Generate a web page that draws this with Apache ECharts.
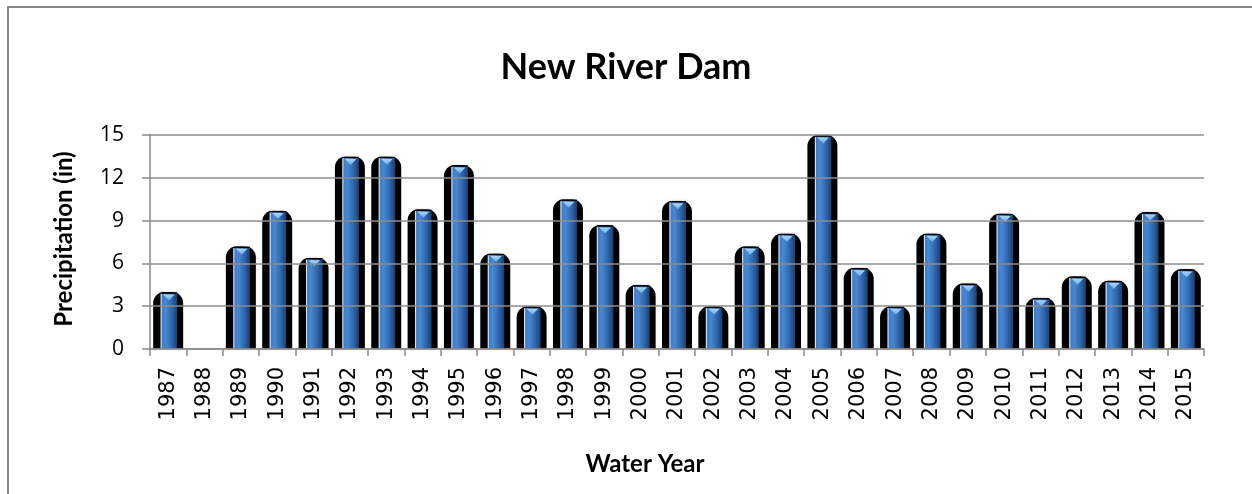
<!DOCTYPE html>
<html>
<head>
<meta charset="utf-8">
<script src="https://cdn.jsdelivr.net/npm/echarts@6/dist/echarts.min.js"></script>
<style>
html,body{margin:0;padding:0;background:#fff;}
#c{width:1252px;height:494px;}
</style>
</head>
<body>
<div id="c"></div>
<script>
const years = ['1987','1988','1989','1990','1991','1992','1993','1994','1995','1996','1997','1998','1999','2000','2001','2002','2003','2004','2005','2006','2007','2008','2009','2010','2011','2012','2013','2014','2015'];
const precipitation = [4.0, 0, 7.2, 9.7, 6.4, 13.5, 13.5, 9.8, 12.9, 6.7, 3.0, 10.5, 8.7, 4.5, 10.4, 3.0, 7.2, 8.1, 15.0, 5.7, 3.0, 8.1, 4.6, 9.5, 3.6, 5.1, 4.8, 9.6, 5.6];
const yTicks = [0, 3, 6, 9, 12, 15];

const chart = echarts.init(document.getElementById('c'), null, {renderer: 'canvas'});

function renderItem(params, api) {
  const idx = api.value(0);
  const v = api.value(1);
  const top = api.coord([idx, v]);
  const base = api.coord([idx, 0]);
  const cw = api.size([1, 0])[0];
  const cx = top[0];
  const h = base[1] - top[1];
  if (h < 1) {
    return {type: 'group', children: []};
  }
  const bw = cw * 0.825;
  const bx = cx - bw / 2;
  const r = Math.min(11, h);
  const ix0 = cx - bw * 0.25;
  const ix1 = cx + bw * 0.3;
  const iw = ix1 - ix0;
  const children = [
    {type: 'rect', shape: {x: bx - 2, y: top[1] - 2, width: bw + 4, height: h + 2, r: [r + 2, r + 2, 0, 0]}, style: {fill: '#ffffff'}},
    {type: 'rect', shape: {x: bx, y: top[1], width: bw, height: h, r: [r, r, 0, 0]}, style: {fill: '#000000'}},
    {type: 'rect', shape: {x: ix0, y: top[1] + 1.5, width: iw, height: h - 1.5},
      style: {fill: new echarts.graphic.LinearGradient(0, 0, 1, 0, [
        {offset: 0, color: '#3b78c0'},
        {offset: 0.3, color: '#4888d2'},
        {offset: 0.65, color: '#2f68ae'},
        {offset: 1, color: '#1b3f70'}
      ])}},
    {type: 'line', shape: {x1: ix0 + 0.5, y1: top[1] + 2, x2: ix0 + 0.5, y2: base[1]}, style: {stroke: '#e8f0f8', lineWidth: 1}},
    {type: 'line', shape: {x1: ix0 - 3, y1: top[1] - 0.5, x2: ix1 + 3, y2: top[1] - 0.5}, style: {stroke: '#f2f2f2', lineWidth: 1}},
    {type: 'line', shape: {x1: ix0, y1: top[1] + 1, x2: ix1, y2: top[1] + 1}, style: {stroke: '#000000', lineWidth: 1.2}},
    {type: 'polygon', shape: {points: [[ix0 + 2.5, top[1] + 2.5], [ix1 - 2.5, top[1] + 2.5], [(ix0 + ix1) / 2, top[1] + 8.5]]},
      style: {fill: new echarts.graphic.LinearGradient(0, 0, 0, 1, [
        {offset: 0, color: '#a8d6fa'},
        {offset: 1, color: '#6aaae8'}
      ])}}
  ];
  return {type: 'group', children: children};
}

const option = {
  backgroundColor: '#ffffff',
  animation: false,
  grid: {left: 150, right: 48, top: 135, bottom: 145, containLabel: false},
  xAxis: {
    type: 'category',
    data: years,
    boundaryGap: true,
    z: 5,
    axisLine: {show: true, lineStyle: {color: '#8a8a8a', width: 1.5}},
    axisTick: {show: true, length: 7, alignWithLabel: false, lineStyle: {color: '#8a8a8a', width: 1.5}},
    axisLabel: {rotate: 90, margin: 18, color: '#000000', fontFamily: 'DejaVu Sans', fontSize: 21, interval: 0}
  },
  yAxis: {
    type: 'value',
    min: 0,
    max: 15,
    interval: 3,
    z: 5,
    axisLine: {show: true, lineStyle: {color: '#8a8a8a', width: 1.5}},
    axisTick: {show: true, length: 8, lineStyle: {color: '#8a8a8a', width: 1.5}},
    splitLine: {show: true, lineStyle: {color: '#8e8e8e', width: 1.5}},
    axisLabel: {margin: 26, color: '#000000', fontFamily: 'Open Sans', fontSize: 21,
      formatter: function (val) { return yTicks.indexOf(val) >= 0 ? String(val) : ''; }}
  },
  series: [{
    type: 'custom',
    renderItem: renderItem,
    z: 2,
    encode: {x: 0, y: 1},
    data: precipitation.map(function (v, i) { return [i, v]; })
  }],
  graphic: [
    {type: 'rect', z: 0, silent: true, shape: {x: 8, y: 7, width: 1400, height: 700}, style: {fill: 'none', stroke: '#868686', lineWidth: 2}},
    {type: 'text', x: 626, y: 67, style: {text: 'New River Dam', font: 'bold 36px Lato', fill: '#000000', align: 'center', verticalAlign: 'middle'}},
    {type: 'text', x: 64, y: 239, rotation: Math.PI / 2, style: {text: 'Precipitation (in)', font: 'bold 24px Lato', fill: '#000000', align: 'center', verticalAlign: 'middle'}},
    {type: 'text', x: 645, y: 464, style: {text: 'Water Year', font: 'bold 24px Lato', fill: '#000000', align: 'center', verticalAlign: 'middle'}}
  ]
};
chart.setOption(option);
</script>
</body>
</html>
